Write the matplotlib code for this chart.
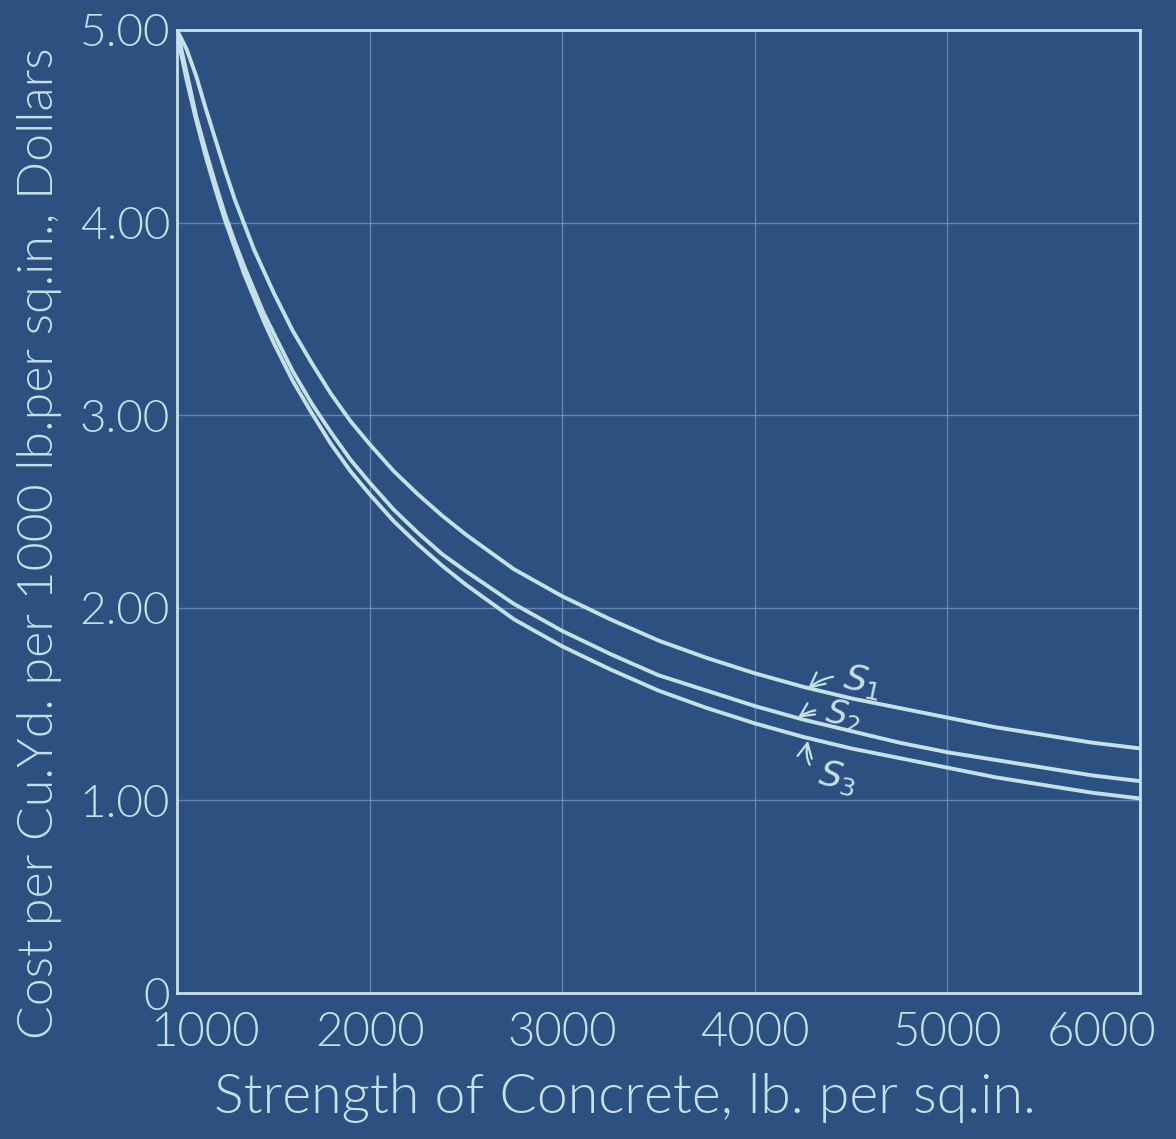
import matplotlib
matplotlib.use("Agg")
import matplotlib.pyplot as plt
from matplotlib.transforms import ScaledTranslation

# strength of concrete, lb. per sq.in.
strength = [1000, 1050, 1100, 1150, 1200, 1250, 1300, 1350, 1400, 1450, 1500,
            1600, 1700, 1800, 1900, 2000, 2125, 2250, 2375, 2500, 2750, 3000,
            3250, 3500, 3750, 4000, 4250, 4500, 4750, 5000, 5250, 5500, 5750, 6000]

# cost per cu.yd. per 1000 lb. per sq.in., dollars
s1_cost = [5.00, 4.90, 4.76, 4.59, 4.43, 4.27, 4.12, 3.99, 3.86, 3.75, 3.64,
           3.44, 3.27, 3.11, 2.97, 2.85, 2.71, 2.59, 2.48, 2.38, 2.20, 2.06,
           1.94, 1.83, 1.74, 1.66, 1.59, 1.53, 1.48, 1.43, 1.38, 1.34, 1.30, 1.27]
s2_cost = [5.00, 4.78, 4.55, 4.37, 4.20, 4.04, 3.90, 3.77, 3.65, 3.53, 3.43,
           3.23, 3.06, 2.91, 2.77, 2.65, 2.51, 2.39, 2.28, 2.19, 2.02, 1.88,
           1.76, 1.65, 1.57, 1.49, 1.42, 1.36, 1.30, 1.25, 1.21, 1.17, 1.13, 1.10]
s3_cost = [4.98, 4.74, 4.53, 4.34, 4.17, 4.01, 3.87, 3.73, 3.61, 3.49, 3.38,
           3.18, 3.01, 2.85, 2.71, 2.59, 2.45, 2.33, 2.22, 2.12, 1.94, 1.80,
           1.68, 1.57, 1.48, 1.40, 1.33, 1.27, 1.22, 1.17, 1.12, 1.08, 1.04, 1.01]

curve_names = [r"$S_1$", r"$S_2$", r"$S_3$"]

xtick_values = [1000, 2000, 3000, 4000, 5000, 6000]
xtick_labels = ["1000", "2000", "3000", "4000", "5000", "6000"]
ytick_values = [0, 1, 2, 3, 4, 5]
ytick_labels = ["0", "1.00", "2.00", "3.00", "4.00", "5.00"]

paper = "#2c5080"
chalk = "#c4e0e8"
grid_c = "#7aa2c8"

plt.rcParams["font.family"] = ["Lato", "DejaVu Sans"]
plt.rcParams["font.weight"] = 300
plt.rcParams["axes.labelweight"] = 300

fig = plt.figure(figsize=(11.76, 11.39), dpi=100, facecolor=paper)
ax = fig.add_axes([177 / 1176, 1 - 993 / 1139, 963 / 1176, 963 / 1139])
ax.set_facecolor(paper)

for ys in (s1_cost, s2_cost, s3_cost):
    ax.plot(strength, ys, color=chalk, lw=2.8, solid_capstyle="round",
            solid_joinstyle="round", zorder=3)

ax.set_xlim(1000, 6000)
ax.set_ylim(0, 5)
ax.set_xticks(xtick_values)
ax.set_xticklabels(xtick_labels)
ax.set_yticks(ytick_values)
ax.set_yticklabels(ytick_labels)
ax.tick_params(axis="x", length=0, pad=14, labelsize=34, colors=chalk)
ax.tick_params(axis="y", length=0, pad=5, labelsize=33, colors=chalk)

# hand-lettered end labels sit inside the frame
xl = ax.get_xticklabels()
xl[0].set_transform(xl[0].get_transform() + ScaledTranslation(0.28, 0, fig.dpi_scale_trans))
xl[-1].set_transform(xl[-1].get_transform() + ScaledTranslation(-0.38, 0, fig.dpi_scale_trans))

ax.grid(True, color=grid_c, lw=1.0, alpha=0.65)
ax.set_axisbelow(True)
for sp in ax.spines.values():
    sp.set_color(chalk)
    sp.set_linewidth(2.0)

ax.set_xlabel("Strength of Concrete, lb. per sq.in.", fontsize=40, color=chalk)
ax.xaxis.set_label_coords(0.465, -0.083)
ax.set_ylabel("Cost per Cu.Yd. per 1000 lb.per sq.in., Dollars", fontsize=36, color=chalk)
ax.yaxis.set_label_coords(-0.119, 0.467)

# curve tags with little arrows
arrow_kw = dict(arrowstyle="->", color=chalk, lw=1.6, shrinkA=3, shrinkB=0)
ax.annotate(curve_names[0], xy=(4276, 1.58), xytext=(4560, 1.62), fontsize=26,
            color=chalk, ha="center", va="center", rotation=-12,
            arrowprops=dict(connectionstyle="arc3,rad=0.3", **arrow_kw))
ax.annotate(curve_names[1], xy=(4224, 1.43), xytext=(4460, 1.44), fontsize=24,
            color=chalk, ha="center", va="center", rotation=-12,
            arrowprops=dict(connectionstyle="arc3,rad=0.3", **arrow_kw))
ax.annotate(curve_names[2], xy=(4276, 1.31), xytext=(4430, 1.12), fontsize=26,
            color=chalk, ha="center", va="center", rotation=-12,
            arrowprops=dict(connectionstyle="arc3,rad=-0.6", **arrow_kw))

fig.savefig("out.png", dpi=100, facecolor=paper)
